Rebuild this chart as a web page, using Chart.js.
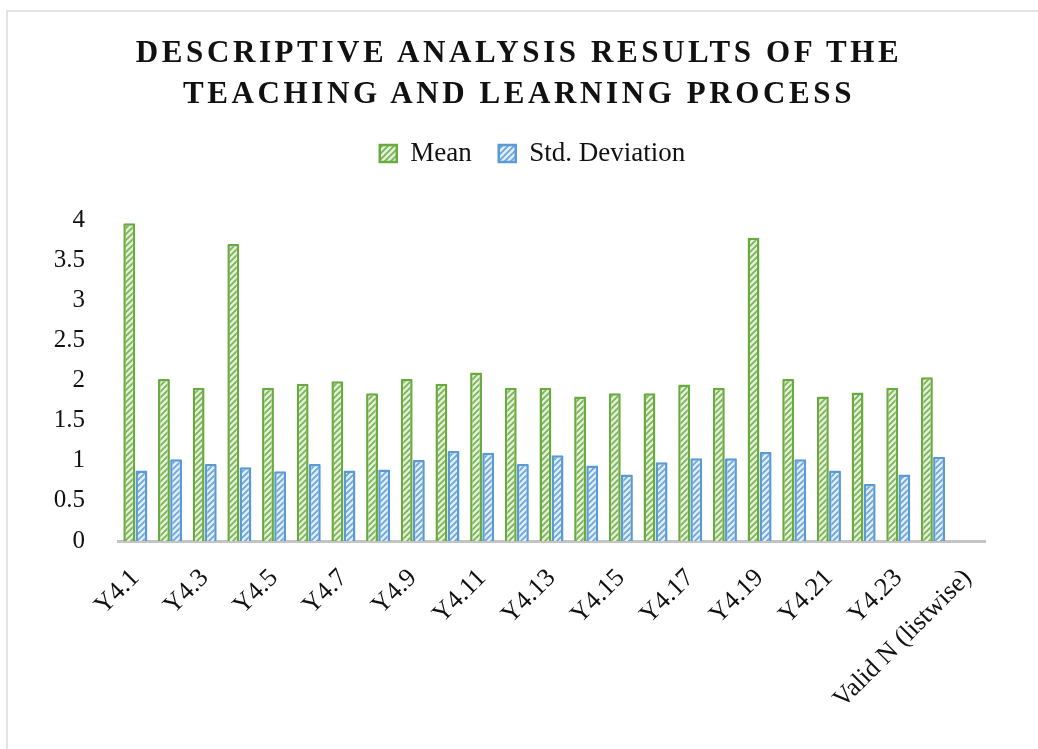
<!DOCTYPE html>
<html>
<head>
<meta charset="utf-8">
<script src="https://cdn.jsdelivr.net/npm/chart.js@4.4.1/dist/chart.umd.min.js"></script>
<style>
  html, body { margin: 0; padding: 0; background: #fff; }
  #wrap { position: relative; width: 1038px; height: 749px; overflow: hidden; }
  #frame { position: absolute; left: 6px; top: 10px; width: 1100px; height: 800px;
           border-left: 2px solid #e4e4e4; border-top: 2px solid #e4e4e4; }
  #chart { position: absolute; left: 0; top: 0; }
  #title { position: absolute; left: 0; top: 31px; width: 1038px; text-align: center;
           font: bold 31px "Liberation Serif", serif; letter-spacing: 3.6px; line-height: 41px; color: #111; }
</style>
</head>
<body>
<div id="wrap">
  <div id="frame"></div>
  <canvas id="chart" width="1038" height="749"></canvas>
  <div id="title">DESCRIPTIVE ANALYSIS RESULTS OF THE<br>TEACHING AND LEARNING PROCESS</div>
</div>
<script>
// data
const categories = ['Y4.1', 'Y4.2', 'Y4.3', 'Y4.4', 'Y4.5', 'Y4.6', 'Y4.7', 'Y4.8', 'Y4.9', 'Y4.10',
  'Y4.11', 'Y4.12', 'Y4.13', 'Y4.14', 'Y4.15', 'Y4.16', 'Y4.17', 'Y4.18', 'Y4.19', 'Y4.20',
  'Y4.21', 'Y4.22', 'Y4.23', 'Y4.24', 'Valid N (listwise)'];
const meanValues = [3.96, 2.02, 1.91, 3.70, 1.91, 1.96, 1.99, 1.84, 2.02, 1.96,
  2.10, 1.91, 1.91, 1.80, 1.84, 1.84, 1.95, 1.91, 3.78, 2.02,
  1.80, 1.85, 1.91, 2.04, null];
const stdValues = [0.88, 1.02, 0.96, 0.92, 0.87, 0.96, 0.88, 0.89, 1.01, 1.12,
  1.10, 0.96, 1.07, 0.94, 0.83, 0.98, 1.03, 1.03, 1.11, 1.02,
  0.88, 0.71, 0.83, 1.05, null];
const yMin = 0, yMax = 4, yStep = 0.5;

const FONT = '"Liberation Serif", serif';

// diagonal hatch fill like the Excel pattern
function hatch(bg, fg) {
  const c = document.createElement('canvas');
  c.width = c.height = 6;
  const g = c.getContext('2d');
  g.fillStyle = bg;
  g.fillRect(0, 0, 6, 6);
  g.strokeStyle = fg;
  g.lineWidth = 1.7;
  g.beginPath();
  g.moveTo(0, 6); g.lineTo(6, 0);
  g.moveTo(-3, 3); g.lineTo(3, -3);
  g.moveTo(3, 9); g.lineTo(9, 3);
  g.stroke();
  return g.createPattern(c, 'repeat');
}

// extra room under the legend, and push it right to sit under the title
const legendGap = {
  id: 'legendGap',
  beforeInit(chart) {
    const fit = chart.legend.fit;
    chart.legend.fit = function () {
      fit.call(this);
      this.height += 43;
    };
  },
  afterUpdate(chart) {
    const lg = chart.legend;
    lg.left += 40;
    lg.right += 40;
  }
};

const ctx = document.getElementById('chart').getContext('2d');
new Chart(ctx, {
  type: 'bar',
  data: {
    labels: categories,
    datasets: [
      {
        label: 'Mean',
        data: meanValues,
        backgroundColor: hatch('#e5f0dc', '#78b450'),
        borderColor: '#6aab41',
        borderWidth: 2.5,
        borderRadius: 1
      },
      {
        label: 'Std. Deviation',
        data: stdValues,
        backgroundColor: hatch('#e1edf9', '#6aa5dc'),
        borderColor: '#5b9bd5',
        borderWidth: 2.5,
        borderRadius: 1
      }
    ]
  },
  plugins: [legendGap],
  options: {
    responsive: false,
    animation: false,
    layout: { padding: { left: 0, right: 53, top: 113, bottom: 0 } },
    datasets: { bar: { categoryPercentage: 0.7, barPercentage: 0.98 } },
    plugins: {
      title: { display: false },
      tooltip: { enabled: false },
      legend: {
        position: 'top',
        labels: {
          boxWidth: 17,
          boxHeight: 17,
          padding: 27,
          color: '#111',
          font: { family: FONT, size: 27 }
        }
      }
    },
    scales: {
      x: {
        grid: { display: false, drawTicks: false },
        border: { display: true, color: '#c4c4c4', width: 3 },
        ticks: {
          autoSkip: false,
          minRotation: 45,
          maxRotation: 45,
          padding: 22,
          color: '#111',
          font: { family: FONT, size: 26 },
          callback: (v, i) => (i % 2 === 0 ? categories[i] : '')
        },
        afterFit(scale) { scale.height = 208; }
      },
      y: {
        min: yMin,
        max: yMax,
        grid: { display: false, drawTicks: false },
        border: { display: false },
        ticks: {
          stepSize: yStep,
          padding: 33,
          color: '#111',
          font: { family: FONT, size: 25 },
          callback: (v) => String(v)
        },
        afterFit(scale) { scale.width = 118; }
      }
    }
  }
});
</script>
</body>
</html>
